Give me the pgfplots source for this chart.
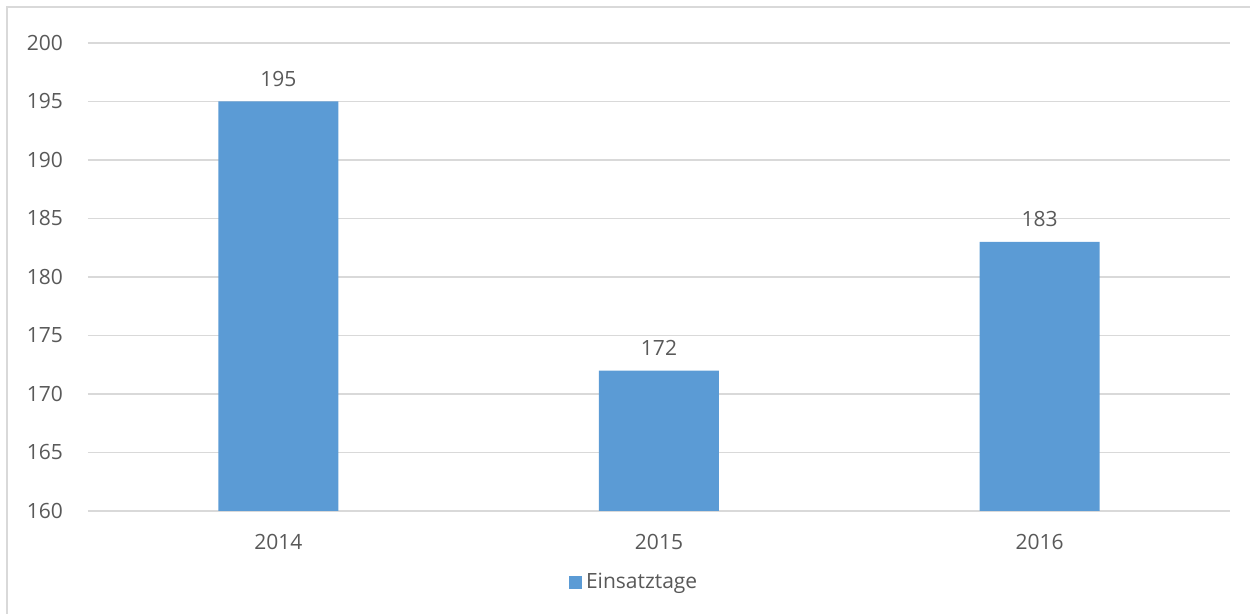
\documentclass[border=0pt]{standalone}
\usepackage{pgfplots}
\pgfplotsset{compat=1.18}
\usepackage{fontspec}
\setmainfont{Open Sans}
\definecolor{barblue}{HTML}{5B9BD5}
\definecolor{gridgray}{HTML}{D9D9D9}
\definecolor{txtgray}{HTML}{595959}
\begin{document}
\begin{tikzpicture}
\useasboundingbox (0,0) rectangle (625pt,307pt);
\draw[gridgray, line width=0.6pt] (3.5pt,0) -- (3.5pt,303.5pt) -- (625pt,303.5pt);
\begin{axis}[
  at={(44pt,51.5pt)}, anchor=south west,
  scale only axis, width=571pt, height=234pt,
  xmin=-0.5, xmax=2.5, ymin=160, ymax=200,
  xtick={0,1,2}, xticklabels={2014,2015,2016},
  ytick={160,165,...,200},
  axis line style={draw=none},
  major tick length=0pt,
  ymajorgrids, grid style={gridgray, line width=0.6pt},
  tick label style={font=\fontsize{10.5}{13}\selectfont, text=txtgray},
  /pgf/number format/assume math mode=true,
  /pgf/number format/1000 sep={},
  xticklabel style={yshift=-8pt},
  yticklabel style={xshift=-9pt},
  ybar, bar width=60pt,
  nodes near coords,
  nodes near coords style={font=\fontsize{10.5}{13}\selectfont, text=txtgray, anchor=south, yshift=4pt},
  legend style={at={(0.479,-0.152)}, anchor=center, draw=none, font=\fontsize{10.5}{13}\selectfont, text=txtgray},
  legend image code/.code={\fill[barblue] (0pt,-3.3pt) rectangle (6.6pt,3.3pt);},
]
\addplot[fill=barblue, draw=none] coordinates {(0,195) (1,172) (2,183)};
\addlegendentry{Einsatztage}
\end{axis}
\end{tikzpicture}
\end{document}
